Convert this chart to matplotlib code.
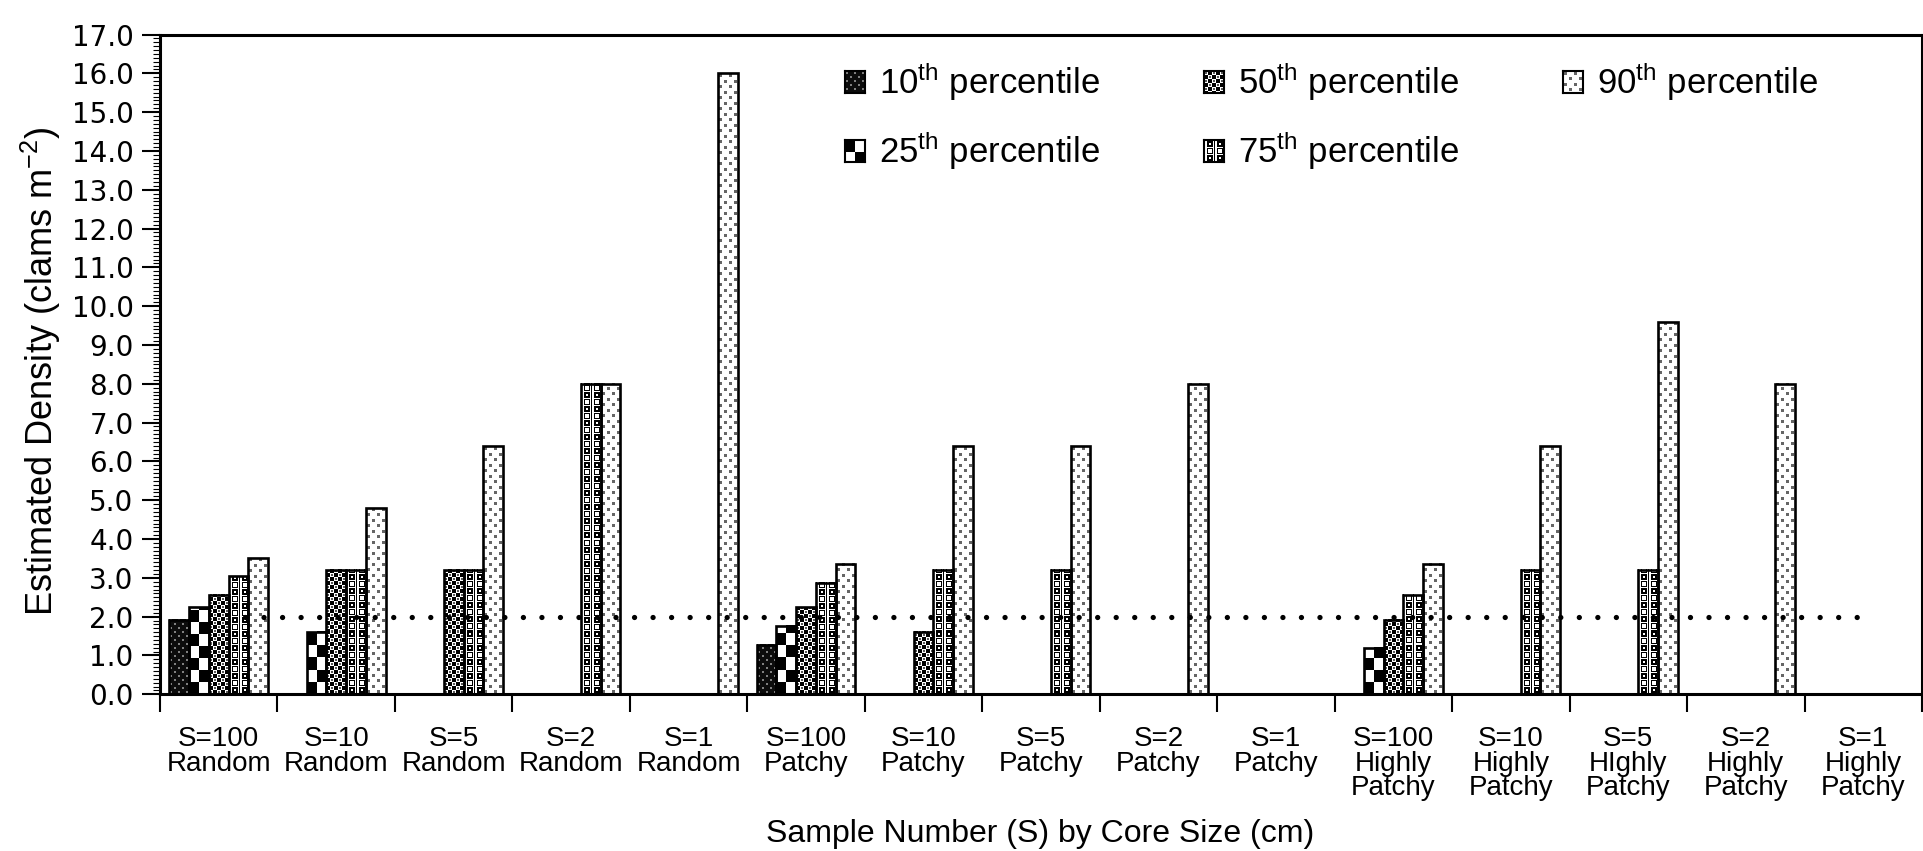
import numpy as np
import matplotlib
matplotlib.use("Agg")
import matplotlib.pyplot as plt
from matplotlib.ticker import MultipleLocator, FormatStrFormatter

plt.rcParams['font.family'] = ['Liberation Sans', 'DejaVu Sans']
plt.rcParams['mathtext.fontset'] = 'custom'
plt.rcParams['mathtext.rm'] = 'Liberation Sans'
plt.rcParams['mathtext.it'] = 'Liberation Sans:italic'
plt.rcParams['mathtext.bf'] = 'Liberation Sans:bold'

# ---- data ----
groups = ["S=100\nRandom", "S=10\nRandom", "S=5\nRandom", "S=2\nRandom", "S=1\nRandom",
          "S=100\nPatchy", "S=10\nPatchy", "S=5\nPatchy", "S=2\nPatchy", "S=1\nPatchy",
          "S=100\nHighly\nPatchy", "S=10\nHighly\nPatchy", "S=5\nHIghly\nPatchy",
          "S=2\nHighly\nPatchy", "S=1\nHighly\nPatchy"]
percentiles = ["10", "25", "50", "75", "90"]
p10 = [1.92, 0, 0, 0, 0, 1.28, 0, 0, 0, 0, 0, 0, 0, 0, 0]
p25 = [2.24, 1.6, 0, 0, 0, 1.76, 0, 0, 0, 0, 1.2, 0, 0, 0, 0]
p50 = [2.56, 3.2, 3.2, 0, 0, 2.24, 1.6, 0, 0, 0, 1.92, 0, 0, 0, 0]
p75 = [3.04, 3.2, 3.2, 8.0, 0, 2.88, 3.2, 3.2, 0, 0, 2.56, 3.2, 3.2, 0, 0]
p90 = [3.52, 4.8, 6.4, 8.0, 16.0, 3.36, 6.4, 6.4, 8.0, 0, 3.36, 6.4, 9.6, 8.0, 0]
series = [p10, p25, p50, p75, p90]
threshold = 2.0

W, H = 1923, 851
fig = plt.figure(figsize=(W / 100, H / 100), dpi=100)
ax = fig.add_axes([160 / W, 1 - 694.3 / H, 1762 / W, (694.3 - 34.5) / H])
ax.set_xlim(-0.5, 14.5)
ax.set_ylim(0, 17)
ax.set_autoscale_on(False)


# bitmap fill patterns (0 = black, 1 = white)
def t10():
    t = np.full((8, 8), 0.05)
    t[1:3, 1:3] = 0.5
    t[5:7, 5:7] = 0.5
    return t


def t25():
    return np.kron(np.array([[0.0, 1.0], [1.0, 0.0]]), np.ones((12, 10)))


def t50():
    t = np.zeros((8, 8))
    t[0:4, 0:4] = 1
    t[4:8, 4:8] = 1
    t[1:3, 1:3] = 0.35
    t[5:7, 5:7] = 0.35
    return t


def t75():
    t = np.ones((14, 10))
    t[:, 0] = 0
    t[1:7, 3:9] = 0
    t[3:5, 5:7] = 1
    t[8:14, 3:9] = 0
    t[9:13, 4:8] = 1
    return t


def t90():
    t = np.ones((11, 10))
    t[1:4, 1:4] = 0.4
    t[6:9, 6:9] = 0.4
    return t


tiles = [t10(), t25(), t50(), t75(), t90()]


def fill(tile, h, w):
    ny = h // tile.shape[0] + 1
    nx = w // tile.shape[1] + 1
    return np.tile(tile, (ny, nx))[:h, :w]


bw = 0.168
x = np.arange(len(groups))
for k, vals in enumerate(series):
    xs = x + (k - 2) * bw
    for xi, v in zip(xs, vals):
        if v <= 0:
            continue
        (px0, py0), (px1, py1) = ax.transData.transform([(xi - bw / 2, 0), (xi + bw / 2, v)])
        w = max(int(round(px1 - px0)), 1)
        h = max(int(round(py1 - py0)), 1)
        img = fill(tiles[k], h, w)[::-1]
        ax.imshow(img, cmap='gray', vmin=0, vmax=1, extent=(xi - bw / 2, xi + bw / 2, 0, v),
                  interpolation='nearest', aspect='auto', zorder=2)
    ax.bar(xs, vals, bw, fill=False, edgecolor='black', linewidth=1.9, zorder=3)

# reference line
ax.plot([0.22, 13.96], [threshold, threshold], color='black', lw=3.8,
        ls=(0, (0.01, 3.5)), dash_capstyle='round', zorder=4)

# axes styling
for s in ['left', 'bottom', 'top', 'right']:
    ax.spines[s].set_linewidth(2.2)
ax.yaxis.set_major_locator(MultipleLocator(1))
ax.yaxis.set_minor_locator(MultipleLocator(0.1))
ax.yaxis.set_major_formatter(FormatStrFormatter('%.1f'))
ax.tick_params(axis='y', which='major', direction='out', length=13, width=1.5, pad=6)
ax.tick_params(axis='y', which='minor', direction='out', length=5, width=0.8)
for lab in ax.get_yticklabels():
    lab.set_fontfamily('DejaVu Sans')
    lab.set_fontsize(20)

ax.set_xticks(x)
ax.set_xticklabels(groups, fontsize=20, linespacing=0.93)
ax.set_xticks(np.arange(-0.5, 15, 1), minor=True)
ax.tick_params(axis='x', which='major', length=0, pad=23)
ax.tick_params(axis='x', which='minor', direction='out', length=13, width=1.5)

ax.set_ylabel("Estimated Density (clams m$^{\\mathrm{-2}}$)", fontsize=26, va='center')
ax.yaxis.set_label_coords(-0.0675, 0.49)
fig.text(1040 / W, 1 - 834 / H, "Sample Number (S) by Core Size (cm)", fontsize=23,
         ha='center', va='center')

# legend
leg_x = [855, 855, 1214, 1214, 1573]
leg_y = [82, 151, 82, 151, 82]
for k, p in enumerate(percentiles):
    cx, cy = leg_x[k], leg_y[k]
    sax = fig.add_axes([(cx - 10) / W, 1 - (cy + 11) / H, 20 / W, 22 / H])
    sax.imshow(fill(tiles[k], 22, 20), cmap='gray', vmin=0, vmax=1,
               interpolation='nearest', aspect='auto')
    sax.set_xticks([])
    sax.set_yticks([])
    for s in sax.spines.values():
        s.set_linewidth(1.5)
    fig.text((cx + 24) / W, 1 - cy / H, p + "$^{\\mathrm{th}}$ percentile", fontsize=25,
             ha='left', va='center')

fig.savefig("out.png", dpi=100)
